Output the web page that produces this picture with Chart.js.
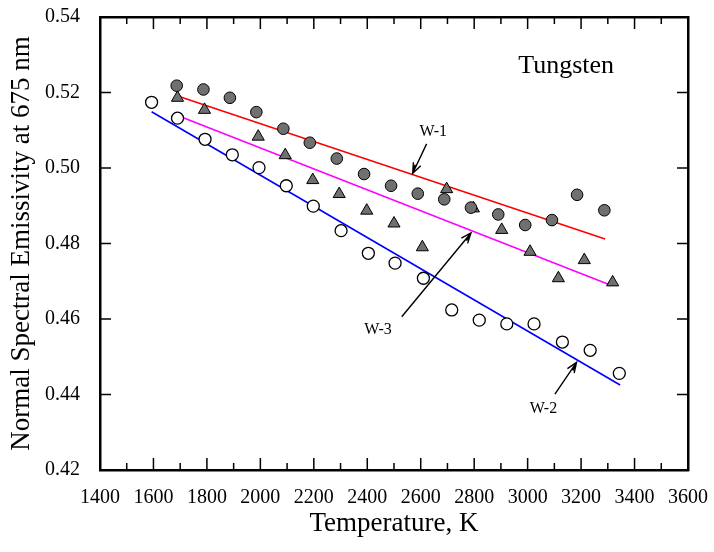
<!DOCTYPE html>
<html>
<head>
<meta charset="utf-8">
<script src="https://cdn.jsdelivr.net/npm/chart.js@4"></script>
<style>
  html, body { margin: 0; padding: 0; background: #fff; }
  #wrap { width: 714px; height: 552px; }
</style>
</head>
<body>
<div id="wrap"><canvas id="c" width="714" height="552"></canvas></div>
<script>
// ---- data ----
const w1Temp = [1687,1787,1886,1985,2086,2185,2286,2388,2489,2589,2688,2788,2890,2991,3091,3185,3287];
const w1Emis = [0.5218,0.5208,0.5186,0.5148,0.5104,0.5067,0.5025,0.4984,0.4953,0.4932,0.4917,0.4895,0.4877,0.4849,0.4862,0.4929,0.4888];

const w3Temp = [1690,1791,1992,2093,2196,2295,2398,2500,2606,2697,2797,2903,3009,3115,3212,3318];
const w3Emis = [0.5186,0.5154,0.5083,0.5034,0.4968,0.4931,0.4887,0.4853,0.4790,0.4944,0.4893,0.4836,0.4778,0.4708,0.4756,0.4697];

const w2Temp = [1593,1690,1793,1895,1995,2097,2198,2302,2404,2504,2610,2716,2819,2922,3024,3130,3234,3343];
const w2Emis = [0.5174,0.5132,0.5076,0.5035,0.5001,0.4953,0.4899,0.4834,0.4774,0.4748,0.4708,0.4624,0.4597,0.4587,0.4587,0.4539,0.4517,0.4456];

const fitW1Temp = [1699, 3290];
const fitW1Emis = [0.5189, 0.4812];
const fitW3Temp = [1690, 3302];
const fitW3Emis = [0.5139, 0.4692];
const fitW2Temp = [1593, 3346];
const fitW2Emis = [0.5149, 0.4425];

const xTickLabels = ['1400','1600','1800','2000','2200','2400','2600','2800','3000','3200','3400','3600'];
const yTickLabels = ['0.42','0.44','0.46','0.48','0.50','0.52','0.54'];

const labelTexts = ['W-1', 'W-3', 'W-2', 'Tungsten'];
const labelTemp  = [2647, 2440, 3059, 3144];
const labelEmis  = [0.5095, 0.4571, 0.4363, 0.5270];

const arrowFromTemp = [2622, 2529, 3102];
const arrowFromEmis = [0.5064, 0.4606, 0.4401];
const arrowToTemp   = [2570, 2788, 3183];
const arrowToEmis   = [0.4986, 0.4828, 0.4485];

// ---- helpers ----
const pts = (xs, ys) => xs.map((v, i) => ({x: v, y: ys[i]}));
const FONT = "'Liberation Serif', 'Times New Roman', serif";
Chart.defaults.font.family = FONT;
Chart.defaults.color = '#000';

const noPad = s => { s.paddingLeft = 0; s.paddingRight = 0; s.paddingTop = 0; s.paddingBottom = 0; };

const decor = {
  id: 'decor',
  afterDraw(chart) {
    const {ctx, chartArea: a, scales: {x, y}} = chart;
    ctx.save();
    ctx.strokeStyle = '#000';
    ctx.lineWidth = 1.5;
    ctx.beginPath();
    for (let v = x.min + 100; v < x.max; v += 100) {
      const px = x.getPixelForValue(v);
      const len = (Math.round(v) % 200 === 0) ? 12 : 7;
      ctx.moveTo(px, a.bottom); ctx.lineTo(px, a.bottom - len);
      ctx.moveTo(px, a.top); ctx.lineTo(px, a.top + len);
    }
    yTickLabels.forEach(s => {
      const v = parseFloat(s);
      if (Math.abs(v - y.min) < 1e-9 || Math.abs(v - y.max) < 1e-9) return;
      const py = y.getPixelForValue(v);
      ctx.moveTo(a.left, py); ctx.lineTo(a.left + 11, py);
      ctx.moveTo(a.right, py); ctx.lineTo(a.right - 11, py);
    });
    ctx.stroke();

    ctx.lineWidth = 1.4;
    for (let i = 0; i < arrowFromTemp.length; i++) {
      const tx = x.getPixelForValue(arrowFromTemp[i]), ty = y.getPixelForValue(arrowFromEmis[i]);
      const hx = x.getPixelForValue(arrowToTemp[i]), hy = y.getPixelForValue(arrowToEmis[i]);
      const ang = Math.atan2(hy - ty, hx - tx);
      const L = 11, spread = 0.38;
      ctx.beginPath();
      ctx.moveTo(tx, ty); ctx.lineTo(hx, hy);
      ctx.moveTo(hx - L * Math.cos(ang - spread), hy - L * Math.sin(ang - spread));
      ctx.lineTo(hx, hy);
      ctx.lineTo(hx - L * Math.cos(ang + spread), hy - L * Math.sin(ang + spread));
      ctx.moveTo(hx - 9 * Math.cos(ang - 0.18), hy - 9 * Math.sin(ang - 0.18));
      ctx.lineTo(hx, hy);
      ctx.stroke();
    }

    ctx.fillStyle = '#000';
    ctx.textAlign = 'center';
    ctx.textBaseline = 'middle';
    labelTexts.forEach((t, i) => {
      ctx.font = (t === 'Tungsten' ? '26px ' : '16px ') + FONT;
      ctx.fillText(t, x.getPixelForValue(labelTemp[i]), y.getPixelForValue(labelEmis[i]));
    });
    ctx.restore();
  }
};

new Chart(document.getElementById('c'), {
  type: 'scatter',
  data: {
    datasets: [
      { label: 'W-1 data', data: pts(w1Temp, w1Emis), pointStyle: 'circle', pointRadius: 5.8,
        backgroundColor: '#707070', borderColor: '#000', borderWidth: 1 },
      { label: 'W-3 data', data: pts(w3Temp, w3Emis), pointStyle: 'triangle', pointRadius: 7,
        backgroundColor: '#707070', borderColor: '#000', borderWidth: 1 },
      { label: 'W-2 data', data: pts(w2Temp, w2Emis), pointStyle: 'circle', pointRadius: 6,
        backgroundColor: '#fff', borderColor: '#000', borderWidth: 1.3 },
      { label: 'W-1 fit', data: pts(fitW1Temp, fitW1Emis), showLine: true, pointRadius: 0,
        borderColor: '#ff0000', borderWidth: 1.6 },
      { label: 'W-3 fit', data: pts(fitW3Temp, fitW3Emis), showLine: true, pointRadius: 0,
        borderColor: '#ff00ff', borderWidth: 1.6 },
      { label: 'W-2 fit', data: pts(fitW2Temp, fitW2Emis), showLine: true, pointRadius: 0,
        borderColor: '#0000ff', borderWidth: 1.6 }
    ]
  },
  options: {
    responsive: false,
    animation: false,
    events: [],
    layout: { padding: 0 },
    plugins: { legend: { display: false }, tooltip: { enabled: false } },
    scales: {
      x: {
        type: 'linear', position: 'bottom', min: 1400, max: 3600,
        afterFit: s => { s.height = 82; noPad(s); },
        afterBuildTicks: s => { s.ticks = xTickLabels.map(t => ({value: parseFloat(t)})); },
        grid: { display: false },
        border: { display: true, color: '#000', width: 2.5 },
        ticks: { font: { size: 20, family: FONT }, color: '#000', padding: 8, maxRotation: 0,
                 autoSkip: false, callback: (v, i) => xTickLabels[i] },
        title: { display: true, text: 'Temperature, K', font: { size: 27, family: FONT }, color: '#000',
                 padding: { top: 0, bottom: 12 } }
      },
      x2: {
        type: 'linear', position: 'top', min: 1400, max: 3600,
        afterFit: s => { s.height = 17; noPad(s); },
        grid: { display: false },
        border: { display: true, color: '#000', width: 2.5 },
        ticks: { display: false }
      },
      y: {
        type: 'linear', position: 'left', min: 0.42, max: 0.54,
        afterFit: s => { s.width = 100; noPad(s); },
        afterBuildTicks: s => { s.ticks = yTickLabels.map(t => ({value: parseFloat(t)})); },
        grid: { display: false },
        border: { display: true, color: '#000', width: 2.5 },
        ticks: { font: { size: 20, family: FONT }, color: '#000', padding: 12,
                 callback: (v, i) => yTickLabels[i] },
        title: { display: true, text: 'Normal Spectral Emissivity at 675 nm', font: { size: 27, family: FONT },
                 color: '#000', padding: { top: 6, bottom: 0 } }
      },
      y2: {
        type: 'linear', position: 'right', min: 0.42, max: 0.54,
        afterFit: s => { s.width = 26; noPad(s); },
        grid: { display: false },
        border: { display: true, color: '#000', width: 2.5 },
        ticks: { display: false }
      }
    }
  },
  plugins: [decor]
});
</script>
</body>
</html>
